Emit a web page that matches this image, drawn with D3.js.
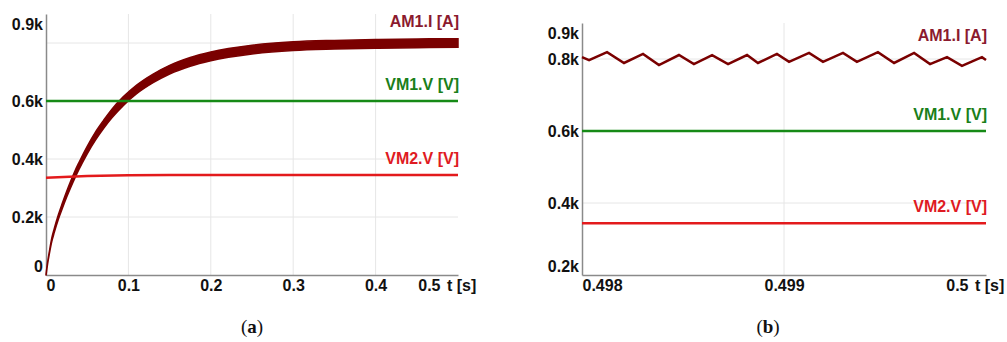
<!DOCTYPE html>
<html>
<head>
<meta charset="utf-8">
<script src="https://cdn.jsdelivr.net/npm/d3@7"></script>
<style>
  body { margin: 0; background: #fff; }
  svg text { font-family: "Liberation Sans", Arial, sans-serif; font-weight: bold; }
  .domain { stroke: #8a8a8a; stroke-width: 1.5; }
  .grid line { stroke: #e6e6e6; stroke-width: 1; }
</style>
</head>
<body>
<svg id="chart" width="1007" height="342"></svg>
<script>
// panel (a): start-up transient, 0 .. 0.5 s
const tA = [0, 0.002, 0.004, 0.007, 0.01, 0.015, 0.02, 0.025, 0.03, 0.035, 0.04, 0.05, 0.06, 0.07,
  0.08, 0.094, 0.11, 0.13, 0.15, 0.175, 0.2, 0.25, 0.3, 0.35, 0.4, 0.45, 0.5];
const am1A = [0, 42, 76, 121, 153, 200, 240, 278, 313, 346, 376, 431, 479, 520,
  557, 600, 640, 678, 708, 735, 754, 777, 789, 794, 797, 799, 800];
const am1RippleA = [2, 3, 4, 6, 7, 8, 9, 10, 11, 12, 12, 13, 14, 14,
  15, 15, 15, 15, 15, 15, 15, 15, 15, 15, 15, 15, 15];
const tVm1A = [0, 0.5];
const vm1A = [600, 600];
const tVm2A = [0, 0.05, 0.1, 0.15, 0.3, 0.5];
const vm2A = [335, 341, 344, 345, 345, 345];

// panel (b): last 2 ms
const tB = [0.498, 0.498035, 0.498124, 0.498208, 0.498302, 0.498381, 0.49848, 0.498554, 0.498644, 0.498723,
  0.498817, 0.498871, 0.498965, 0.499025, 0.499124, 0.499193, 0.499292, 0.499361, 0.499465, 0.499545,
  0.499644, 0.499723, 0.499807, 0.499881, 0.49998, 0.5];
const am1B = [805, 797, 819, 789, 814, 783, 811, 786, 811, 786,
  811, 789, 814, 792, 817, 792, 817, 792, 819, 789,
  817, 786, 805, 781, 805, 797];
const tLineB = [0.498, 0.5];
const vm1B = [600, 600];
const vm2B = [344, 344];

// ticks
const yTicksA = [0, 200, 400, 600, 900];
const yGridA = [200, 400, 600, 800];
const xTicksA = [0, 0.1, 0.2, 0.3, 0.4, 0.5];
const xGridA = [0.1, 0.2, 0.3, 0.4];
const yTicksB = [200, 400, 600, 800, 900];
const yGridB = [400, 600, 800];
const xTicksB = [0.498, 0.499, 0.5];
const xGridB = [0.499];

const colors = {
  am1: '#7a0000', am1Label: '#8b1a2e',
  vm1: '#168a16', vm1Label: '#1a7f1a',
  vm2: '#e31a1c', vm2Label: '#df1a22'
};

const svg = d3.select('#chart');

function kFormat(v) {
  return v === 0 ? '0' : (v / 1000) + 'k';
}

function drawPanel(cfg) {
  const x = d3.scaleLinear().domain(cfg.xDomain).range([cfg.left, cfg.right]);
  const y = d3.scaleLinear().domain(cfg.yDomain).range([cfg.bottom, cfg.top]);
  const g = svg.append('g');

  // grid
  const grid = g.append('g').attr('class', 'grid');
  grid.selectAll('.gy').data(cfg.yGrid).enter().append('line')
    .attr('x1', cfg.left).attr('x2', cfg.right)
    .attr('y1', d => y(d)).attr('y2', d => y(d));
  grid.selectAll('.gx').data(cfg.xGrid).enter().append('line')
    .attr('x1', d => x(d)).attr('x2', d => x(d))
    .attr('y1', cfg.top).attr('y2', cfg.bottom);

  // axes
  const yAxis = g.append('g')
    .attr('transform', `translate(${cfg.left},0)`)
    .call(d3.axisLeft(y).tickValues(cfg.yTicks).tickFormat(kFormat).tickSize(0).tickSizeOuter(0).tickPadding(3));
  yAxis.selectAll('text')
    .style('font-size', '16px').attr('fill', '#111')
    .attr('y', d => {
      const pos = y(d);
      const clamped = Math.max(cfg.top + 10, Math.min(cfg.bottom - 9, pos));
      return clamped - pos;
    });

  const xAxis = g.append('g')
    .attr('transform', `translate(0,${cfg.bottom})`)
    .call(d3.axisBottom(x).tickValues(cfg.xTicks).tickFormat(cfg.xFormat).tickSize(0).tickSizeOuter(0).tickPadding(5));
  const xTexts = xAxis.selectAll('text').style('font-size', '16px').attr('fill', '#111');
  xTexts.filter((d, i) => i === 0).attr('text-anchor', 'start');
  xTexts.filter((d, i) => i === cfg.xTicks.length - 1).attr('text-anchor', 'end').attr('x', -18);
  xAxis.append('text')
    .attr('x', cfg.right - 11).attr('y', 5).attr('dy', '0.71em')
    .attr('text-anchor', 'start').attr('fill', '#111')
    .style('font-size', '16px')
    .text('t [s]');

  // series
  cfg.series.forEach(s => {
    const pts = s.t.map((t, i) => ({ t, v: s.v[i], r: s.r ? s.r[i] : 0 }));
    if (s.r) {
      const area = d3.area()
        .x(d => x(d.t))
        .y0(d => y(d.v - d.r))
        .y1(d => y(d.v + d.r))
        .curve(d3.curveMonotoneX);
      g.append('path').datum(pts)
        .attr('d', area)
        .attr('fill', s.color)
        .attr('stroke', s.color)
        .attr('stroke-width', 1.5);
    } else {
      const line = d3.line().x(d => x(d.t)).y(d => y(d.v));
      g.append('path').datum(pts)
        .attr('d', line)
        .attr('fill', 'none')
        .attr('stroke', s.color)
        .attr('stroke-width', 2.5);
    }
    const maxV = d3.max(pts, d => d.v + d.r);
    g.append('text')
      .attr('x', cfg.right + 1)
      .attr('y', y(maxV) - 17)
      .attr('dy', '0.35em')
      .attr('text-anchor', 'end')
      .attr('fill', s.labelColor)
      .style('font-size', '16px')
      .text(s.name);
  });

  svg.append('text')
    .attr('x', cfg.captionX).attr('y', 333)
    .attr('text-anchor', 'middle')
    .style('font-family', '"Liberation Serif", "Times New Roman", serif')
    .style('font-weight', 'normal')
    .style('font-size', '19px')
    .attr('fill', '#111')
    .html(`(<tspan font-weight="bold">${cfg.caption}</tspan>)`);
}

drawPanel({
  left: 46, right: 458, top: 14, bottom: 275,
  xDomain: [0, 0.5], yDomain: [0, 900],
  yTicks: yTicksA, yGrid: yGridA, xTicks: xTicksA, xGrid: xGridA,
  xFormat: d => String(d),
  captionX: 252, caption: 'a',
  series: [
    { name: 'AM1.I [A]', t: tA, v: am1A, r: am1RippleA, color: colors.am1, labelColor: colors.am1Label },
    { name: 'VM1.V [V]', t: tVm1A, v: vm1A, color: colors.vm1, labelColor: colors.vm1Label },
    { name: 'VM2.V [V]', t: tVm2A, v: vm2A, color: colors.vm2, labelColor: colors.vm2Label }
  ]
});

drawPanel({
  left: 582, right: 986, top: 23, bottom: 275,
  xDomain: [0.498, 0.5], yDomain: [200, 900],
  yTicks: yTicksB, yGrid: yGridB, xTicks: xTicksB, xGrid: xGridB,
  xFormat: d => d3.format('.3~f')(d),
  captionX: 768, caption: 'b',
  series: [
    { name: 'AM1.I [A]', t: tB, v: am1B, color: colors.am1, labelColor: colors.am1Label },
    { name: 'VM1.V [V]', t: tLineB, v: vm1B, color: colors.vm1, labelColor: colors.vm1Label },
    { name: 'VM2.V [V]', t: tLineB, v: vm2B, color: colors.vm2, labelColor: colors.vm2Label }
  ]
});
</script>
</body>
</html>
